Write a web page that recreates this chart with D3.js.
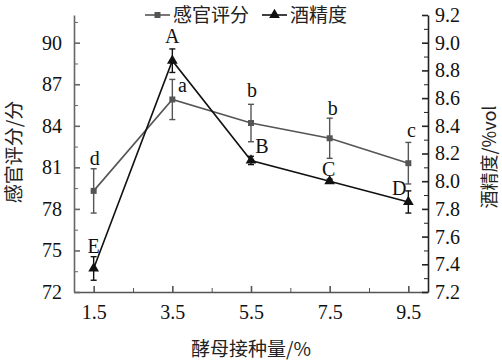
<html>
<head>
<meta charset="UTF-8">
<script src="https://cdn.jsdelivr.net/npm/d3@7"></script>
<style>
  body { margin: 0; background: #fff; }
  .axis text { font: 20px "Liberation Serif", "Times New Roman", serif; fill: #111; }
  .lbl { font: 20px "Liberation Serif", serif; fill: #111; }
  .cjk { font-family: "Noto Sans CJK SC", sans-serif; font-size: 19px; fill: #222; }
</style>
</head>
<body>
<div id="chart"></div>
<script>
// data
var dose = [1.5, 3.5, 5.5, 7.5, 9.5];
var score = [79.3, 85.9, 84.2, 83.1, 81.3];
var scoreErr = [1.6, 1.45, 1.35, 1.45, 1.5];
var scoreLetters = ["d", "a", "b", "b", "c"];
var alcohol = [7.37, 8.87, 8.15, 8.0, 7.85];
var alcoholErr = [0.085, 0.085, 0.03, 0.015, 0.08];
var alcoholLetters = ["E", "A", "B", "C", "D"];
var xTicks = [1.5, 3.5, 5.5, 7.5, 9.5];
var yLeftTicks = [72, 75, 78, 81, 84, 87, 90];
var yRightTicks = [7.2, 7.4, 7.6, 7.8, 8.0, 8.2, 8.4, 8.6, 8.8, 9.0, 9.2];

var W = 502, H = 362;
var margin = {top: 15, right: 74, bottom: 70, left: 74},
    width = W - margin.left - margin.right,
    height = H - margin.top - margin.bottom;

var x = d3.scaleLinear().domain([1, 10]).range([0, width]);
var yL = d3.scaleLinear().domain([72, 92]).range([height, 0]);
var yR = d3.scaleLinear().domain([7.2, 9.2]).range([height, 0]);

var svg = d3.select("#chart").append("svg")
    .attr("width", W).attr("height", H)
  .append("g")
    .attr("transform", "translate(" + margin.left + "," + margin.top + ")");

// minor ticks
svg.append("g").attr("transform", "translate(0," + height + ")")
    .call(d3.axisBottom(x).tickValues([2.5, 4.5, 6.5, 8.5]).tickSize(-4).tickFormat(""))
    .call(function(g) { g.select(".domain").remove(); g.selectAll("line").attr("stroke", "#555"); });
svg.append("g")
    .call(d3.axisLeft(yL).tickValues([73.5, 76.5, 79.5, 82.5, 85.5, 88.5, 91.5]).tickSize(-4).tickFormat(""))
    .call(function(g) { g.select(".domain").remove(); g.selectAll("line").attr("stroke", "#666"); });
svg.append("g").attr("transform", "translate(" + width + ",0)")
    .call(d3.axisRight(yR).tickValues(d3.range(7.3, 9.2, 0.2)).tickSize(-4).tickFormat(""))
    .call(function(g) { g.select(".domain").remove(); g.selectAll("line").attr("stroke", "#222"); });

// main axes
svg.append("g").attr("class", "axis")
    .attr("transform", "translate(0," + height + ")")
    .call(d3.axisBottom(x).tickValues(xTicks).tickSizeInner(-6).tickSizeOuter(0).tickPadding(13).tickFormat(d3.format(".1f")))
    .call(function(g) { g.selectAll("path,line").attr("stroke", "#555").attr("stroke-width", 1.6); });

svg.append("g").attr("class", "axis")
    .call(d3.axisLeft(yL).tickValues(yLeftTicks).tickSizeInner(-6).tickSizeOuter(0).tickPadding(12))
    .call(function(g) { g.selectAll("path,line").attr("stroke", "#666").attr("stroke-width", 1.6); });

svg.append("g").attr("class", "axis")
    .attr("transform", "translate(" + width + ",0)")
    .call(d3.axisRight(yR).tickValues(yRightTicks).tickSizeInner(-6).tickSizeOuter(0).tickPadding(7).tickFormat(d3.format(".1f")))
    .call(function(g) { g.selectAll("path,line").attr("stroke", "#222").attr("stroke-width", 1.6); });

// series
function drawSeries(vals, errs, y, color, shape, size) {
  var pts = dose.map(function(d, i) { return {x: d, y: vals[i], e: errs[i]}; });
  svg.append("path").datum(pts)
      .attr("fill", "none").attr("stroke", color).attr("stroke-width", 1.6)
      .attr("d", d3.line().x(function(d) { return x(d.x); }).y(function(d) { return y(d.y); }));
  var eb = svg.append("g").attr("stroke", color).attr("stroke-width", 1.4);
  pts.forEach(function(d) {
    var cx = x(d.x), t = y(d.y + d.e), b = y(d.y - d.e);
    eb.append("line").attr("x1", cx).attr("x2", cx).attr("y1", t).attr("y2", b);
    eb.append("line").attr("x1", cx - 3).attr("x2", cx + 3).attr("y1", t).attr("y2", t);
    eb.append("line").attr("x1", cx - 3).attr("x2", cx + 3).attr("y1", b).attr("y2", b);
  });
  svg.append("g").selectAll("path").data(pts).enter().append("path")
      .attr("fill", color)
      .attr("transform", function(d) { return "translate(" + x(d.x) + "," + y(d.y) + ")"; })
      .attr("d", d3.symbol().type(shape).size(size));
}
drawSeries(score, scoreErr, yL, "#555", d3.symbolSquare, 36);
drawSeries(alcohol, alcoholErr, yR, "#111", d3.symbolTriangle, 50);

// significance letters (offsets in px from data points)
var scoreOff = [[1, -4, "top"], [10, -7, "pt"], [1, -7, "top"], [3, -3, "top"], [3, -5, "top"]];
var alcOff = [[0, -4, "top"], [0, -6, "top"], [11, -7, "pt"], [-1, -5, "pt"], [-9, -7, "pt"]];
function letters(vals, errs, y, labs, off) {
  svg.append("g").selectAll("text").data(labs).enter().append("text")
      .attr("class", "lbl").attr("text-anchor", "middle")
      .attr("x", function(d, i) { return x(dose[i]) + off[i][0]; })
      .attr("y", function(d, i) {
        var base = off[i][2] === "top" ? y(vals[i] + errs[i]) : y(vals[i]);
        return base + off[i][1];
      })
      .text(function(d) { return d; });
}
letters(score, scoreErr, yL, scoreLetters, scoreOff);
letters(alcohol, alcoholErr, yR, alcoholLetters, alcOff);

// axis titles
var root = d3.select("svg");
root.append("text").attr("class", "cjk").attr("text-anchor", "middle")
    .attr("x", margin.left + width / 2).attr("y", 356)
    .text("酵母接种量/%");
root.append("text").attr("class", "cjk").attr("text-anchor", "middle")
    .attr("transform", "translate(21,152) rotate(-90)")
    .text("感官评分/分");
root.append("text").attr("class", "cjk").attr("text-anchor", "middle")
    .style("font-size", "18px")
    .attr("transform", "translate(496,157) rotate(-90)")
    .text("酒精度/%vol");

// legend
var leg = root.append("g").attr("transform", "translate(145,15)");
leg.append("line").attr("x1", 0).attr("x2", 25).attr("stroke", "#555").attr("stroke-width", 1.6);
leg.append("path").attr("transform", "translate(12.5,0)").attr("fill", "#555")
    .attr("d", d3.symbol().type(d3.symbolSquare).size(36));
leg.append("text").attr("class", "cjk").attr("x", 28).attr("dy", "0.35em").text("感官评分");
leg.append("line").attr("x1", 117).attr("x2", 142).attr("stroke", "#111").attr("stroke-width", 1.6);
leg.append("path").attr("transform", "translate(129.5,0)").attr("fill", "#111")
    .attr("d", d3.symbol().type(d3.symbolTriangle).size(50));
leg.append("text").attr("class", "cjk").attr("x", 145).attr("dy", "0.35em").text("酒精度");
</script>
</body>
</html>
